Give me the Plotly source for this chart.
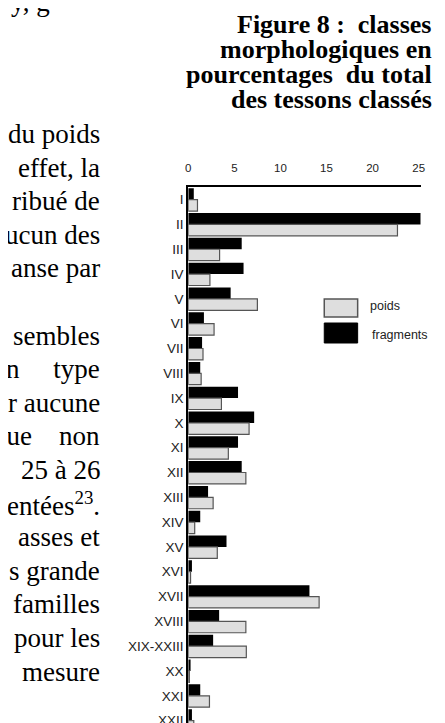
import plotly.graph_objects as go

W, H = 445, 723

classes = ["I", "II", "III", "IV", "V", "VI", "VII", "VIII", "IX", "X", "XI",
           "XII", "XIII", "XIV", "XV", "XVI", "XVII", "XVIII", "XIX-XXIII",
           "XX", "XXI", "XXII"]
fragments = [0.6, 25.5, 5.8, 6.0, 4.6, 1.7, 1.5, 1.3, 5.4, 7.15, 5.4,
             5.8, 2.15, 1.3, 4.15, 0.4, 13.15, 3.35, 2.7, 0.25, 1.3, 0.4]
poids = [1.0, 22.7, 3.4, 2.35, 7.5, 2.8, 1.6, 1.4, 3.6, 6.6, 4.35,
         6.25, 2.7, 0.7, 3.15, 0.25, 14.2, 6.25, 6.3, 0.12, 2.3, 0.6]
xticks = [0, 5, 10, 15, 20, 25]

title_lines = ["Figure 8 :\u00a0 classes", "morphologiques en",
               "pourcentages\u00a0 du total", "des tessons classés"]
nb = "\u00a0"
body_lines = ["du poids", "effet, la", "ribué de", "ucun des", "anse par", "",
              "sembles", "n" + nb * 5 + "type",
              "r aucune", "que" + nb * 4 + "non", "25 à 26",
              "entées<sup>23</sup>.", "asses et", "s grande", "familles",
              "pour les", "mesure"]


def px(x):
    return x / W


def py(y):
    return 1 - y / H


fig = go.Figure()
# fragments first so it sits above poids inside each class
fig.add_trace(go.Bar(y=classes, x=fragments, orientation="h", name="fragments",
                     marker=dict(color="black", line=dict(width=0))))
fig.add_trace(go.Bar(y=classes, x=poids, orientation="h", name="poids",
                     marker=dict(color="#dedede", line=dict(color="#555", width=1.2))))

fig.update_layout(
    width=W, height=H, margin=dict(l=0, r=0, t=0, b=0),
    paper_bgcolor="white", plot_bgcolor="white",
    barmode="group", bargap=0.08, bargroupgap=0, showlegend=False,
    font=dict(family="Liberation Sans, Arial", color="#222", size=12),
)
fig.update_xaxes(domain=[px(180.5), px(417)], range=[0, 25.2], side="top",
                 tickvals=xticks, showgrid=False, zeroline=False,
                 showline=True, linecolor="black", linewidth=1.5,
                 ticks="", ticklabelstandoff=9, tickfont=dict(size=11.5))
fig.update_yaxes(domain=[0, py(179)], type="category", range=[21.42, -0.51],
                 showgrid=False, zeroline=False, showline=True,
                 linecolor="black", linewidth=2, ticks="",
                 tickfont=dict(size=13.5))

# legend swatches
fig.add_shape(type="rect", xref="paper", yref="paper", x0=px(319), x1=px(353),
              y0=py(309), y1=py(291), fillcolor="#dedede",
              line=dict(color="#555", width=1.5))
fig.add_shape(type="rect", xref="paper", yref="paper", x0=px(319), x1=px(353),
              y0=py(335), y1=py(315), fillcolor="black",
              line=dict(color="black", width=1))
fig.add_annotation(text="poids", x=px(364), y=py(298), xref="paper", yref="paper",
                   xanchor="left", yanchor="middle", showarrow=False,
                   font=dict(size=12.5, color="#222"))
fig.add_annotation(text="fragments", x=px(366), y=py(327), xref="paper", yref="paper",
                   xanchor="left", yanchor="middle", showarrow=False,
                   font=dict(size=12.5, color="#222"))

# title block
for i, t in enumerate(title_lines):
    fig.add_annotation(text="<b>" + t + "</b>", x=px(431), y=py(16 + 25 * i),
                       xref="paper", yref="paper", xanchor="right", yanchor="middle",
                       showarrow=False,
                       font=dict(family="Liberation Serif, Times New Roman", size=26,
                                 color="black"))

# body text from the page, cut at the left edge
fig.add_annotation(text="y, g", x=px(-2), y=py(-6), xref="paper", yref="paper",
                   xanchor="left", yanchor="middle", showarrow=False,
                   font=dict(family="Liberation Serif", size=27, color="black"))
for i, t in enumerate(body_lines):
    if not t:
        continue
    fig.add_annotation(text=t, x=px(93), y=py(126 + 33.6 * i), xref="paper",
                       yref="paper", xanchor="right", yanchor="middle",
                       showarrow=False,
                       font=dict(family="Liberation Serif, Times New Roman", size=27,
                                 color="black"))

fig.write_html("out.html")
